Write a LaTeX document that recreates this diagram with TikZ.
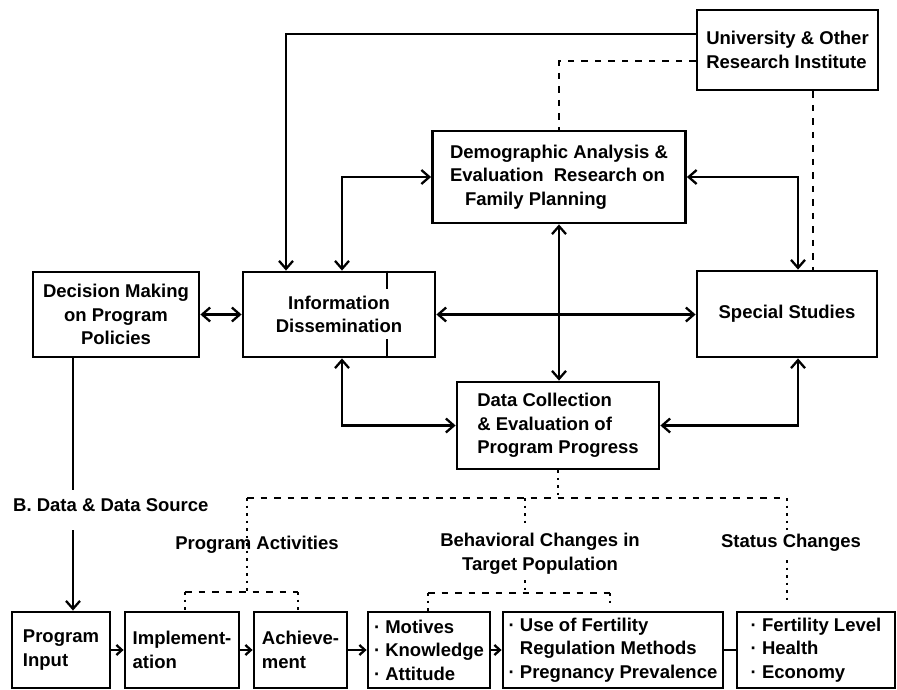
\documentclass[tikz,border=0pt]{standalone}
\usepackage{fontspec}
\setmainfont{Liberation Sans}
\usetikzlibrary{arrows.meta,calc}
\begin{document}
\begin{tikzpicture}[x=1pt,y=-1pt,
  txt/.style={font=\bfseries\fontsize{18.5}{23.5}\selectfont},
  box/.style={txt,draw,line width=2.8pt,inner sep=0pt},
  lbl/.style={txt,inner sep=0pt},
  conn/.style={line width=2.3pt},
  tip/.tip={Straight Barb[length=8pt,width=14pt]},
  smalltip/.tip={Straight Barb[length=5.5pt,width=10pt]},
  arr/.style={conn,-tip},
  darr/.style={conn,tip-tip},
  sarr/.style={conn,-smalltip},
  dsh/.style={line width=2.2pt,dash pattern=on 6.5pt off 7pt},
  dot/.style={line width=2.2pt,dash pattern=on 2.5pt off 5pt},
]
\useasboundingbox (0,0) rectangle (897,690);

% top boxes
\node[box,minimum width=181pt,minimum height=80pt,align=left] (univ) at (787.5,50)
  {University \& Other\\Research Institute};
\node[box,minimum width=253pt,minimum height=92pt,align=left] (demo) at (559,177)
  {Demographic Analysis \&\\Evaluation\ \ Research on\\\hspace{15pt}Family Planning};
\node[box,minimum width=166pt,minimum height=85pt,align=center] (dec) at (116,314.5)
  {Decision Making\\on Program\\Policies};
\node[box,minimum width=192pt,minimum height=85pt,align=center] (info) at (339,314.5)
  {Information\\Dissemination};
\node[box,minimum width=180pt,minimum height=86pt] (spec) at (787,314)
  {Special Studies};
\node[box,minimum width=202pt,minimum height=87pt,align=left] (data) at (558,425.5)
  {Data Collection\\\& Evaluation of\\Program Progress};

% inner mark of information box
\draw[line width=2.8pt] ([xshift=48pt]info.north) -- ++(0,18);
\draw[line width=2.8pt] ([xshift=48pt]info.south) -- ++(0,-19);

% bottom boxes
\node[box,minimum width=98pt,minimum height=76pt,align=left] (pin) at (61,650)
  {Program\\Input};
\node[box,minimum width=114pt,minimum height=76pt,align=left] (impl) at (182,650)
  {Implement-\\ation};
\node[box,minimum width=93pt,minimum height=76pt,align=left] (ach) at (300.5,650)
  {Achieve-\\ment};
\node[box,minimum width=122pt,minimum height=76pt,align=left] (mot) at (429,650)
  {· Motives\\· Knowledge\\· Attitude};
\node[box,minimum width=220pt,minimum height=76pt,align=left] (use) at (613,650)
  {· Use of Fertility\\\phantom{· }Regulation Methods\\· Pregnancy Prevalence};
\node[box,minimum width=158pt,minimum height=76pt,align=left] (fert) at (816,650)
  {· Fertility Level\\· Health\\· Economy};

% labels
\node[lbl,anchor=west] (blabel) at (13,505) {B. Data \& Data Source};
\node[lbl] (pact) at (257,545) {Program Activities};
\node[lbl,align=center] (behav) at (540,554) {Behavioral Changes in\\Target Population};
\node[lbl] (stat) at (791,543) {Status Changes};

% top connectors
\draw[arr] ([yshift=16pt]univ.west) -| ([xshift=-53pt]info.north);
\draw[dsh] ([yshift=-11pt]univ.west) -| (demo.north);
\draw[dsh] ([xshift=25.5pt]univ.south) -- ([xshift=25.5pt]univ.south |- spec.north);
\draw[darr] ([xshift=3pt]info.north) |- (demo.west);
\draw[darr] ([xshift=11pt]spec.north) |- (demo.east);
\draw[darr] (dec.east) -- (info.west);
\draw[darr] (info.east) -- (info.east -| spec.west);
\draw[darr] (demo.south) -- (demo.south |- data.north);
\draw[darr] ([xshift=3pt]info.south) |- (data.west);
\draw[darr] ([xshift=11pt]spec.south) |- (data.east);

% decision making to program input
\coordinate (dend) at (73,490);
\coordinate (bstart) at (73,530);
\draw[conn] ([xshift=-43pt]dec.south) -- (dend);
\draw[arr] (bstart) -- (bstart |- pin.north);

% dotted tree
\coordinate (jl) at (247,498);
\coordinate (jr) at (787,498);
\coordinate (jm) at (525,498);
\coordinate (jmend) at (525,523);
\coordinate (bm) at (525,580);
\coordinate (pm) at (525,593);
\coordinate (pm1) at (428,593);
\coordinate (pm2) at (610,593);
\coordinate (pm2end) at (610,607);
\coordinate (pl) at (247,592);
\coordinate (pa1) at (185,592);
\coordinate (pa2) at (298,592);
\coordinate (jrend) at (787,530);
\coordinate (sr) at (787,560);
\coordinate (srend) at (787,603);

\draw[dot] (data.south) -- (data.south |- jl);
\draw[dsh] (jl) -- (jr);
\draw[dot] (jl) -- (pl);
\draw[dsh] (pa1) -- (pa2);
\draw[dot] (pa1) -- (pa1 |- impl.north);
\draw[dot] (pa2) -- (pa2 |- ach.north);
\draw[dot] (jm) -- (jmend);
\draw[dot] (bm) -- (pm);
\draw[dsh] (pm1) -- (pm2);
\draw[dot] (pm1) -- (pm1 |- mot.north);
\draw[dot] (pm2) -- (pm2end);
\draw[dot] (jr) -- (jrend);
\draw[dot] (sr) -- (srend);

% bottom chain
\draw[sarr] (pin.east) -- (impl.west);
\draw[sarr] (impl.east) -- (ach.west);
\draw[sarr] (ach.east) -- (mot.west);
\draw[sarr] (mot.east) -- (use.west);
\draw[conn] (use.east) -- (fert.west);
\end{tikzpicture}
\end{document}
